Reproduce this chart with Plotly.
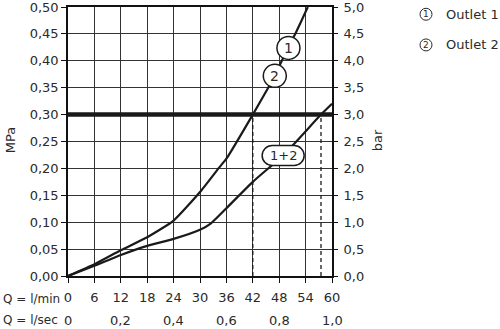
import plotly.graph_objects as go

# ---- data ----
flow_outlet = [0, 6, 12, 18, 24, 30, 34.2, 36, 42, 45.5, 47, 50, 52, 54.5]
press_outlet = [0, 0.022, 0.048, 0.072, 0.103, 0.156, 0.20, 0.218, 0.30, 0.35, 0.373, 0.424, 0.456, 0.50]

flow_both = [0, 6, 12, 18, 24, 30, 32.5, 36, 42, 49, 57.5, 60]
press_both = [0, 0.019, 0.039, 0.056, 0.069, 0.086, 0.098, 0.126, 0.175, 0.225, 0.30, 0.32]

ref_pressure = 0.30
ref_flows = [42, 57.5]

lmin_ticks = [0, 6, 12, 18, 24, 30, 36, 42, 48, 54, 60]
lsec_pos = [0, 12, 24, 36, 48, 60]
lsec_text = ["0", "0,2", "0,4", "0,6", "0,8", "1,0"]
mpa_vals = [0, 0.05, 0.10, 0.15, 0.20, 0.25, 0.30, 0.35, 0.40, 0.45, 0.50]
mpa_text = ["0,00", "0,05", "0,10", "0,15", "0,20", "0,25", "0,30", "0,35", "0,40", "0,45", "0,50"]
bar_vals = [0, 0.5, 1.0, 1.5, 2.0, 2.5, 3.0, 3.5, 4.0, 4.5, 5.0]
bar_text = ["0,0", "0,5", "1,0", "1,5", "2,0", "2,5", "3,0", "3,5", "4,0", "4,5", "5,0"]

labels = [("1", 50.1, 0.424, "circle"), ("2", 47.0, 0.372, "circle"), ("1+2", 48.9, 0.224, "pill")]
legend_nums = ["1", "2"]
legend_names = ["Outlet 1", "Outlet 2"]

FONT = "DejaVu Sans"
TXT = "#2a2a2a"
LINE = "#1a1a1a"

fig = go.Figure()
fig.add_trace(go.Scatter(x=flow_outlet, y=press_outlet, mode="lines",
                         line=dict(color=LINE, width=2.2, shape="spline", smoothing=0.5),
                         showlegend=False, hoverinfo="skip"))
fig.add_trace(go.Scatter(x=flow_both, y=press_both, mode="lines",
                         line=dict(color=LINE, width=2.2, shape="spline", smoothing=0.5),
                         showlegend=False, hoverinfo="skip"))
# invisible trace for the bar axis
fig.add_trace(go.Scatter(x=[0], y=[0], yaxis="y2", mode="markers",
                         marker=dict(opacity=0), showlegend=False, hoverinfo="skip"))

shapes = []
shapes.append(dict(type="line", xref="paper", yref="y", x0=0, x1=1, y0=ref_pressure, y1=ref_pressure,
                   line=dict(color="#1a1a1a", width=4.5)))
for fx in ref_flows:
    shapes.append(dict(type="line", xref="x", yref="y", x0=fx, x1=fx, y0=0, y1=ref_pressure,
                       line=dict(color="#1a1a1a", width=1.3, dash="4px,3px")))

k = 5.52
pill = ("M -11,-10 L 11,-10 C %.2f,-10 21,%.2f 21,0 C 21,%.2f %.2f,10 11,10 "
        "L -11,10 C %.2f,10 -21,%.2f -21,0 C -21,%.2f %.2f,-10 -11,-10 Z") % (
    11 + k, -k, k, 11 + k, -11 - k, k, -k, -11 - k)

annotations = []
for txt, lx, ly, kind in labels:
    if kind == "circle":
        shapes.append(dict(type="circle", xref="x", yref="y", xsizemode="pixel", ysizemode="pixel",
                           xanchor=lx, yanchor=ly, x0=-11.5, x1=11.5, y0=-11.5, y1=11.5,
                           fillcolor="white", line=dict(color="#1a1a1a", width=1.5)))
    else:
        shapes.append(dict(type="path", xref="x", yref="y", xsizemode="pixel", ysizemode="pixel",
                           xanchor=lx, yanchor=ly, path=pill,
                           fillcolor="white", line=dict(color="#1a1a1a", width=1.5)))
    annotations.append(dict(x=lx, y=ly, xref="x", yref="y", text=txt, showarrow=False,
                            font=dict(family=FONT, size=14 if kind == "circle" else 13, color=TXT)))

# bottom l/sec row
for pos, t in zip(lsec_pos, lsec_text):
    annotations.append(dict(x=pos, y=-0.1636, xref="x", yref="paper", text=t, showarrow=False,
                            xanchor="center", yanchor="middle",
                            font=dict(family=FONT, size=13, color=TXT)))
annotations.append(dict(x=-0.2538, y=-0.085, xref="paper", yref="paper", text="Q = l/min",
                        showarrow=False, xanchor="left", yanchor="middle",
                        font=dict(family=FONT, size=12, color=TXT)))
annotations.append(dict(x=-0.2538, y=-0.1636, xref="paper", yref="paper", text="Q = l/sec",
                        showarrow=False, xanchor="left", yanchor="middle",
                        font=dict(family=FONT, size=12, color=TXT)))
annotations.append(dict(x=-0.2197, y=0.505, xref="paper", yref="paper", text="MPa", textangle=-90,
                        showarrow=False, xanchor="center", yanchor="middle",
                        font=dict(family=FONT, size=13, color=TXT)))
annotations.append(dict(x=1.1705, y=0.505, xref="paper", yref="paper", text="bar", textangle=-90,
                        showarrow=False, xanchor="center", yanchor="middle",
                        font=dict(family=FONT, size=13, color=TXT)))

legend_y = [0.973, 0.859]
cx = (426 - 68) / 264
for i in range(2):
    shapes.append(dict(type="circle", xref="paper", yref="paper", xsizemode="pixel", ysizemode="pixel",
                       xanchor=cx, yanchor=legend_y[i], x0=-6, x1=6, y0=-6, y1=6,
                       fillcolor="white", line=dict(color="#2a2a2a", width=1)))
    annotations.append(dict(x=cx, y=legend_y[i], xref="paper", yref="paper", text=legend_nums[i],
                            showarrow=False, xanchor="center", yanchor="middle",
                            font=dict(family=FONT, size=9, color=TXT)))
    annotations.append(dict(x=(444 - 68) / 264, y=legend_y[i], xref="paper", yref="paper",
                            text=legend_names[i], showarrow=False, xanchor="left", yanchor="middle",
                            font=dict(family=FONT, size=13, color=TXT)))

fig.update_layout(
    width=500, height=329,
    margin=dict(l=68, r=168, t=7, b=53, autoexpand=False),
    paper_bgcolor="white", plot_bgcolor="white",
    showlegend=False,
    font=dict(family=FONT, size=13, color=TXT),
    xaxis=dict(range=[0, 60], tickvals=lmin_ticks, ticktext=[str(v) for v in lmin_ticks],
               showgrid=True, gridcolor="#333", gridwidth=1.2,
               showline=True, linecolor="#111", linewidth=1.6, mirror=True,
               ticks="outside", ticklen=5, tickwidth=1.4, tickcolor="#111",
               zeroline=False, ticklabelstandoff=4, automargin=False, ticklabeloverflow="allow"),
    yaxis=dict(range=[0, 0.5], tickvals=mpa_vals, ticktext=mpa_text,
               showgrid=True, gridcolor="#333", gridwidth=1.2,
               showline=True, linecolor="#111", linewidth=1.6, mirror=True,
               ticks="outside", ticklen=5, tickwidth=1.4, tickcolor="#111",
               zeroline=False, automargin=False, ticklabeloverflow="allow"),
    yaxis2=dict(range=[0, 5], tickvals=bar_vals, ticktext=bar_text, overlaying="y", side="right",
                showgrid=False, showline=False, zeroline=False, automargin=False,
                ticks="outside", ticklen=5, tickwidth=1.4, tickcolor="#111", ticklabelstandoff=3,
                ticklabeloverflow="allow"),
    shapes=shapes,
    annotations=annotations,
)

fig.write_html("out.html")
